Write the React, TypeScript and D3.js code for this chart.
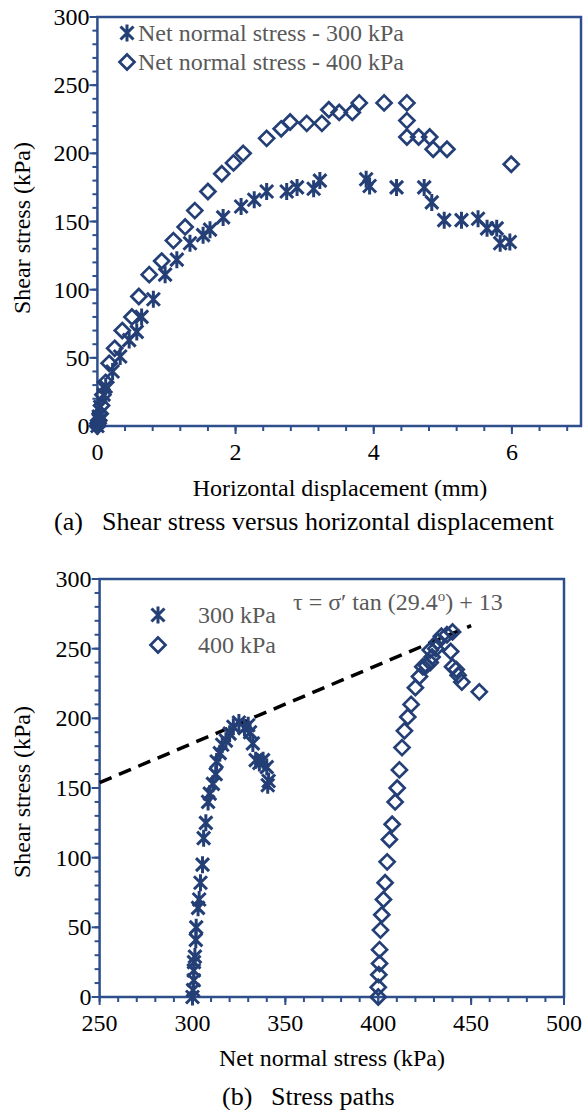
import React, { useEffect } from 'react';
import * as d3 from 'd3';

// ---------- data ----------
// (a) shear stress vs horizontal displacement, net normal stress 300 kPa
const dispA300 = [0, 0.02, 0.02, 0.04, 0.09, 0.12, 0.22, 0.33, 0.46, 0.57, 0.64, 0.81, 0.98, 1.15, 1.34, 1.53, 1.63, 1.82, 2.08, 2.27, 2.45, 2.74, 2.89, 3.13, 3.22, 3.89, 3.94, 4.33, 4.73, 4.84, 5.02, 5.27, 5.51, 5.64, 5.78, 5.83, 5.97];
const shearA300 = [0, 4, 7, 14, 23, 29, 40, 51, 63, 69, 80, 93, 111, 122, 134, 140, 144, 153, 161, 166, 172, 172, 175, 174, 180, 181, 176, 175, 175, 164, 151, 151, 152, 145, 145, 134, 135];
// net normal stress 400 kPa
const dispA400 = [0, 0.01, 0.02, 0.04, 0.06, 0.08, 0.12, 0.17, 0.25, 0.36, 0.5, 0.6, 0.75, 0.93, 1.1, 1.27, 1.41, 1.6, 1.8, 1.97, 2.11, 2.45, 2.66, 2.79, 3.03, 3.25, 3.35, 3.5, 3.69, 3.79, 4.15, 4.48, 4.48, 4.48, 4.65, 4.81, 4.86, 5.06, 5.99];
const shearA400 = [0, 2, 4, 9, 15, 23, 32, 46, 57, 70, 80, 95, 111, 121, 136, 146, 158, 172, 185, 193, 200, 211, 218, 223, 222, 222, 232, 230, 230, 237, 237, 237, 224, 212, 212, 212, 203, 203, 192];

// (b) stress paths
const sigmaB300 = [300, 300.3, 300.7, 300.7, 300.8, 301.3, 301.8, 302, 303, 303.6, 304.3, 305.4, 306, 307.2, 308.4, 309.3, 311, 312.5, 313, 314.7, 316, 318, 320, 322, 325, 328, 330, 331, 332.5, 334, 336, 338, 340, 340.5, 341];
const shearB300 = [0, 5, 12, 19, 25, 29, 41, 50, 64, 70, 82, 95, 114, 125, 140, 146, 153, 160, 169, 175, 181, 184, 189, 194, 197, 193, 195, 190, 182, 170, 168, 170, 165, 152, 155];
const sigmaB400 = [400, 400, 400.3, 400.7, 400.7, 401.2, 401.9, 402.8, 403.7, 404.8, 406, 407.5, 409.1, 410.2, 411.4, 412.8, 414.1, 415.9, 417.7, 420, 422.2, 424, 426, 428, 429, 428, 431, 432, 434, 437, 440, 439, 440, 442, 443, 445, 454.4];
const shearB400 = [0, 7, 16, 24, 34, 48, 59, 70, 82, 97, 113, 124, 140, 150, 163, 179, 191, 201, 210, 222, 230, 237, 238, 240, 244, 249, 250, 255, 259, 260, 262, 248, 237, 235, 231, 226, 219];

// failure envelope: tau = sigma tan(29.4 deg) + 13
const envelopePhiDeg = 29.4;
const envelopeC = 13;
const envelopeSigma = [250, 450];

// tick values
const ticksAXMajor = [0, 2, 4, 6];
const ticksYMajor = [0, 50, 100, 150, 200, 250, 300];
const ticksBXMajor = [250, 300, 350, 400, 450, 500];

// ---------- style ----------
const AXIS = '#2E4F8C';
const MARK = '#243F76';
const GRAY = '#595959';
const FONT = '"Liberation Serif", "Times New Roman", serif';
const FS = 24;

type Sc = d3.ScaleLinear<number, number>;

function Star({ x, y }: { x: number; y: number }) {
  return (
    <path
      transform={`translate(${x},${y})`}
      d="M-6.5,-6.5L6.5,6.5M-6.5,6.5L6.5,-6.5M0,-8.5L0,8.5"
      stroke={MARK}
      strokeWidth={3}
      fill="none"
    />
  );
}

function Diamond({ x, y }: { x: number; y: number }) {
  return (
    <path
      transform={`translate(${x},${y})`}
      d="M0,-7.5L7.5,0L0,7.5L-7.5,0Z"
      stroke={MARK}
      strokeWidth={2.7}
      fill="none"
    />
  );
}

function Axes({
  xs, ys, xMinor, yMinor, xMajor, yMajor,
}: {
  xs: Sc; ys: Sc; xMinor: number[]; yMinor: number[]; xMajor: number[]; yMajor: number[];
}) {
  const [x0, x1] = xs.range();
  const [y0, y1] = ys.range();
  return (
    <g>
      {xMinor.map((v, i) => (
        <line key={'xm' + i} x1={xs(v)} x2={xs(v)} y1={y0} y2={y0 + 5} stroke={AXIS} strokeWidth={2} />
      ))}
      {yMinor.map((v, i) => (
        <line key={'ym' + i} x1={x0 - 5} x2={x0} y1={ys(v)} y2={ys(v)} stroke={AXIS} strokeWidth={2} />
      ))}
      {xMajor.map((v, i) => (
        <line key={'xM' + i} x1={xs(v)} x2={xs(v)} y1={y0} y2={y0 + 8} stroke={AXIS} strokeWidth={2} />
      ))}
      {yMajor.map((v, i) => (
        <line key={'yM' + i} x1={x0 - 8} x2={x0} y1={ys(v)} y2={ys(v)} stroke={AXIS} strokeWidth={2} />
      ))}
      <rect x={x0} y={y1} width={x1 - x0} height={y0 - y1} fill="none" stroke={AXIS} strokeWidth={2.5} />
      {xMajor.map((v, i) => (
        <text key={'xl' + i} x={xs(v)} y={y0 + 34} textAnchor="middle" fontSize={FS} fontFamily={FONT} fill="#000">
          {v}
        </text>
      ))}
      {yMajor.map((v, i) => (
        <text key={'yl' + i} x={x0 - 8} y={ys(v) + 8} textAnchor="end" fontSize={FS} fontFamily={FONT} fill="#000">
          {v}
        </text>
      ))}
    </g>
  );
}

export default function App() {
  useEffect(() => {
    document.body.style.margin = '0';
  }, []);

  // panel (a)
  const xa = d3.scaleLinear().domain([0, 7]).range([97.4, 581]);
  const ya = d3.scaleLinear().domain([0, 300]).range([426, 17]);
  const xaMinor = d3.range(0, 7.0001, 0.4).map((v) => +v.toFixed(2));
  const yMinor = d3.range(0, 300.001, 10);

  // panel (b)
  const xb = d3.scaleLinear().domain([250, 500]).range([99.6, 564]);
  const yb = d3.scaleLinear().domain([0, 300]).range([997, 579]);
  const xbMinor = d3.range(250, 500.001, 10);

  const tanPhi = Math.tan((envelopePhiDeg * Math.PI) / 180);
  const env = d3
    .line<number>()
    .x((s) => xb(s))
    .y((s) => yb(s * tanPhi + envelopeC));

  return (
    <svg width={583} height={1110} style={{ display: 'block' }} fontFamily={FONT}>
      <rect width={583} height={1110} fill="#fff" />
      {/* ===== panel (a) ===== */}
      <Axes xs={xa} ys={ya} xMinor={xaMinor} yMinor={yMinor} xMajor={ticksAXMajor} yMajor={ticksYMajor} />
      {dispA400.map((d, i) => (
        <Diamond key={'a4' + i} x={xa(d)} y={ya(shearA400[i])} />
      ))}
      {dispA300.map((d, i) => (
        <Star key={'a3' + i} x={xa(d)} y={ya(shearA300[i])} />
      ))}
      <Star x={127} y={33} />
      <text x={138} y={41} fontSize={FS} fill={GRAY}>Net normal stress - 300 kPa</text>
      <Diamond x={127} y={62} />
      <text x={138} y={70} fontSize={FS} fill={GRAY}>Net normal stress - 400 kPa</text>
      <text transform="translate(30,228) rotate(-90)" textAnchor="middle" fontSize={FS} fill="#000">
        Shear stress (kPa)
      </text>
      <text x={340} y={496} textAnchor="middle" fontSize={FS} fill="#000">Horizontal displacement (mm)</text>
      <text x={54} y={530} fontSize={26} fill="#000">(a)</text>
      <text x={102} y={530} fontSize={26} fill="#000">Shear stress versus horizontal displacement</text>

      {/* ===== panel (b) ===== */}
      <Axes xs={xb} ys={yb} xMinor={xbMinor} yMinor={yMinor} xMajor={ticksBXMajor} yMajor={ticksYMajor} />
      <path d={env(envelopeSigma) || ''} stroke="#000" strokeWidth={3.5} strokeDasharray="13 8" fill="none" />
      {sigmaB400.map((s, i) => (
        <Diamond key={'b4' + i} x={xb(s)} y={yb(shearB400[i])} />
      ))}
      {sigmaB300.map((s, i) => (
        <Star key={'b3' + i} x={xb(s)} y={yb(shearB300[i])} />
      ))}
      <Star x={158} y={615} />
      <text x={198} y={623} fontSize={FS} fill={GRAY}>300 kPa</text>
      <Diamond x={158} y={645} />
      <text x={198} y={653} fontSize={FS} fill={GRAY}>400 kPa</text>
      <text x={293} y={610} fontSize={FS} fill={GRAY}>
        τ = σ′ tan (29.4<tspan fontSize={15} dy={-9}>o</tspan>
        <tspan dy={9}>) + 13</tspan>
      </text>
      <text transform="translate(30,792) rotate(-90)" textAnchor="middle" fontSize={FS} fill="#000">
        Shear stress (kPa)
      </text>
      <text x={332} y={1066} textAnchor="middle" fontSize={FS} fill="#000">Net normal stress (kPa)</text>
      <text x={222} y={1105} fontSize={26} fill="#000">(b)</text>
      <text x={271} y={1105} fontSize={26} fill="#000">Stress paths</text>
    </svg>
  );
}
